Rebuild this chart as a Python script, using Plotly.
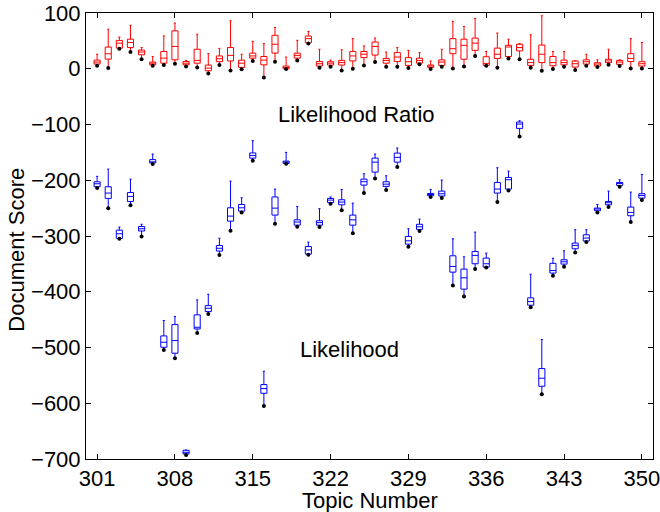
import plotly.graph_objects as go

# Topic numbers on the x axis
topics = list(range(301, 351))

# Likelihood Ratio (red) box statistics
lr_q1 = [8.4, 17.3, 37, 38, 25, 7, 10, 16, 7, 10,
         -3.6, 12.6, 14, 2.4, 19, 7, 28, 0, 19, 46.6,
         4.8, 6.6, 6.6, 14, 20, 24.5, 10, 13, 6, 10,
         2.4, 6, 27, 17, 33, 6, 18.5, 22, 32, 6,
         11, 5.4, 7, 3, 8.4, 4.8, 11, 7.8, 13, 4.8]
lr_med = [12, 26.9, 46, 47, 30, 10, 19, 40, 10, 15,
          1.2, 18, 24, 10, 23, 15.5, 44, 2.4, 24, 54,
          9, 10, 11, 23, 26, 40, 15, 21, 12.6, 15,
          4.8, 12, 36, 42, 46, 9.6, 26, 39, 38, 11,
          26, 11, 11, 9, 12.6, 8.4, 14, 12, 18.5, 9]
lr_q3 = [15.5, 38.9, 50.8, 53, 33.5, 12, 31, 68, 13, 35,
         6.6, 23, 38, 15.5, 28, 22, 60, 4.8, 28, 58.6,
         13, 12.6, 15, 31, 31, 48, 18.5, 29, 20, 19,
         6.6, 16, 54, 53, 55, 21.5, 37, 42, 44, 17,
         42.5, 22, 15.5, 14, 16, 10.8, 17, 15, 27, 12.6]
lr_max = [26, 71, 56.8, 78, 38, 22, 59, 82, 15, 62,
          27, 36.5, 86, 26, 49, 45, 74, 21, 51, 67,
          35, 15.5, 34, 54, 41, 55, 30, 38, 33, 29,
          14, 35, 85, 76, 90, 31, 64, 53, 45, 61,
          95, 31, 31, 14, 26, 16, 35, 16, 54, 47]
lr_min = [5.4, 1.2, 36, 30, 17, 5.4, 6.6, 9, 4, 2.4,
          -8.4, 6.6, -3, -1, 14, -15.5, 12.6, -0.6, 15, 45.5,
          1.8, 3.6, -3, 0, 6, 12, 3.6, 3.6, 1.2, 8,
          -0.6, 3.6, 0.6, 4, 23, 5.4, 1.8, 18.5, 17, 1.8,
          -3.6, -0.6, 3.6, -2.4, 5.4, 3, 7, 4.8, 0.6, 0.6]

# Likelihood (blue) box statistics
lk_q1 = [-211.7, -232.6, -304.4, -238, -291, -169, -499.6, -510.3, -690.9, -466.7,
         -435.6, -327, -273.3, -255.4, -160.3, -582.1, -262.5, -169.8, -280.5, -332.5,
         -280.5, -240, -244, -280.5, -208.7, -185.4, -211, -167.5, -314.6, -288.2,
         -227.8, -228.4, -364.8, -395.3, -349.8, -355.8, -223, -215.8, -107, -424.1,
         -569.5, -366.5, -350.4, -322.9, -309.1, -254.7, -244, -209.3, -263.7, -232]
lk_med = [-206.3, -223, -296, -229, -287, -167, -490.6, -487.6, -688, -463.7,
          -429.6, -322, -264.3, -249.4, -155.5, -573.7, -250, -167.5, -275, -325,
          -276, -235.6, -239.2, -271, -202.7, -167.5, -207, -159, -308.6, -283.5,
          -225.5, -224.3, -354.6, -375, -334.8, -349.8, -215.8, -199, -99.2, -417.6,
          -555.1, -362, -346.2, -316.9, -303.7, -251.7, -240.4, -205.7, -257.7, -227.2]
lk_q3 = [-202.8, -211.7, -289.5, -222, -283, -163, -479.2, -458.9, -684.3, -441.5,
         -424.8, -317, -249.4, -243.4, -151, -566.5, -230, -165.7, -271, -319,
         -272.7, -232.6, -235, -262.5, -198, -160.3, -202.7, -151.3, -300.8, -279,
         -223.7, -219.5, -335.5, -359.4, -327.7, -339.6, -203.9, -195, -95.6, -411,
         -537.8, -349, -342.6, -312.7, -297.8, -249.9, -238, -203.9, -248.1, -224.2]
lk_max = [-193, -180, -284, -198, -279, -153, -451.7, -444.5, -684, -414.6,
          -404.5, -304, -201.5, -231.5, -129, -542.6, -216, -150, -247, -311,
          -251, -230, -216.5, -241, -188.4, -153, -192, -142.3, -287, -269.7,
          -216.5, -199.7, -305, -337.3, -293, -330.7, -177.6, -183.6, -93.3, -368.5,
          -485.7, -340, -326.5, -288.8, -288.8, -243.4, -219.4, -199.1, -221.2, -189.5]
lk_min = [-214, -250, -305, -245, -301, -171, -504.3, -519.3, -692.7, -473.8,
          -439.8, -334, -290.7, -257.8, -165, -604.8, -278, -170.4, -283.5, -333.5,
          -284, -242.2, -253.6, -295, -223, -196.7, -217.7, -176.4, -319.3, -291,
          -230.2, -232, -388.7, -408.5, -359.4, -356.4, -239.2, -218.2, -121.4, -427.7,
          -583.8, -371.5, -355.2, -329.5, -310.9, -257.7, -248.1, -211.7, -275, -235.6]

x_ticks = [301, 308, 315, 322, 329, 336, 343, 350]
y_ticks = [100, 0, -100, -200, -300, -400, -500, -600, -700]

FONT = "Liberation Sans, Arial, sans-serif"

fig = go.Figure()


def add_boxes(q1, med, q3, hi, lo, color):
    fig.add_trace(go.Box(
        x=topics, q1=q1, median=med, q3=q3,
        lowerfence=lo, upperfence=hi,
        width=0.55, whiskerwidth=0.35,
        line=dict(color=color, width=1),
        fillcolor="rgba(0,0,0,0)",
        boxpoints=False, showlegend=False,
    ))
    # black dot at the low end of each whisker
    fig.add_trace(go.Scatter(
        x=topics, y=lo, mode="markers",
        marker=dict(color="black", size=4),
        showlegend=False, hoverinfo="skip",
    ))


add_boxes(lr_q1, lr_med, lr_q3, lr_max, lr_min, "red")
add_boxes(lk_q1, lk_med, lk_q3, lk_max, lk_min, "blue")

fig.add_annotation(x=324.3, y=-82, text="Likelihood Ratio", showarrow=False,
                   font=dict(size=22, color="black", family=FONT))
fig.add_annotation(x=323.7, y=-504, text="Likelihood", showarrow=False,
                   font=dict(size=22, color="black", family=FONT))

# axis titles
fig.add_annotation(xref="paper", yref="paper", x=0.5, y=-0.092,
                   text="Topic Number", showarrow=False, yanchor="middle",
                   font=dict(size=22, color="black", family=FONT))
fig.add_annotation(xref="paper", yref="paper", x=-0.122, y=0.469,
                   text="Document Score", showarrow=False, textangle=-90,
                   xanchor="center", font=dict(size=22, color="black", family=FONT))

axis_common = dict(
    showgrid=False, zeroline=False, showline=True, linecolor="black",
    linewidth=1, mirror="ticks", ticks="inside", ticklen=5, automargin=False,
    ticklabeloverflow="allow",
    tickcolor="black", tickfont=dict(size=22, color="black", family=FONT),
)
fig.update_xaxes(range=[300, 351], tickvals=x_ticks, ticklabelstandoff=0, **axis_common)
fig.update_yaxes(range=[-700, 100], tickvals=y_ticks, **axis_common)

fig.update_layout(
    width=660, height=512,
    margin=dict(l=86, r=7, t=13, b=53),
    plot_bgcolor="white", paper_bgcolor="white",
    boxmode="overlay",
    font=dict(family=FONT),
)

# drop the browser's default 8px body margin so the figure fills the window
fig.write_html("out.html", config={"displayModeBar": False},
               post_script="document.body.style.margin='0';")
